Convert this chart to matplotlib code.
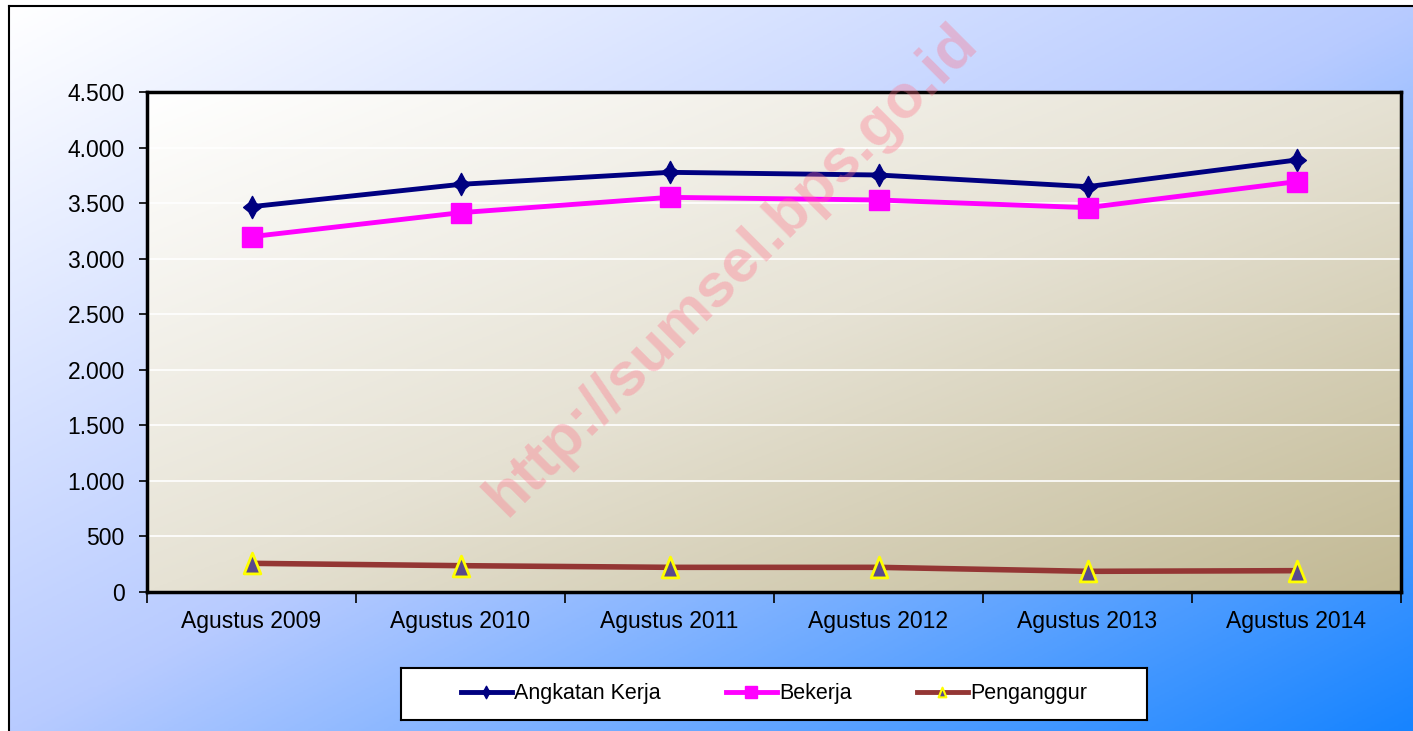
import numpy as np
import matplotlib
matplotlib.use("Agg")
import matplotlib.pyplot as plt
from matplotlib.colors import LinearSegmentedColormap
from matplotlib.lines import Line2D
from matplotlib.path import Path

categories = ["Agustus 2009", "Agustus 2010", "Agustus 2011", "Agustus 2012", "Agustus 2013", "Agustus 2014"]
angkatan_kerja = [3468, 3669, 3777, 3753, 3648, 3888]
bekerja = [3198, 3414, 3552, 3528, 3459, 3693]
penganggur = [258, 237, 222, 222, 186, 192]
yticks = [0, 500, 1000, 1500, 2000, 2500, 3000, 3500, 4000, 4500]
ytick_labels = ["0", "500", "1.000", "1.500", "2.000", "2.500", "3.000", "3.500", "4.000", "4.500"]

plt.rcParams['font.family'] = ['Liberation Sans', 'DejaVu Sans']

W, H = 1413, 731
fig = plt.figure(figsize=(W / 100, H / 100), dpi=100)
fig.patch.set_facecolor("white")

def diag_gradient(c0, c1, c2, n=300):
    cmap = LinearSegmentedColormap.from_list("g", [c0, c1, c2])
    x = np.linspace(0, 1, n)
    y = np.linspace(0, 1, n)
    X, Y = np.meshgrid(x, y)
    return cmap, (X + Y) / 2

# background panel
bg = fig.add_axes([9 / W, 0, 1 - 9 / W, 1 - 6 / H])
cmap, G = diag_gradient("#ffffff", "#b8cbff", "#1784ff")
bg.imshow(G, cmap=cmap, aspect="auto", extent=[0, 1, 0, 1], origin="upper")
bg.set_xticks([]); bg.set_yticks([])
for s in ["bottom", "right"]:
    bg.spines[s].set_visible(False)
for s in ["top", "left"]:
    bg.spines[s].set_linewidth(1.5)
bg.set_zorder(0)

# plot area
left, right, top, bottom = 147, 1401, 92, 592
ax = fig.add_axes([left / W, 1 - bottom / H, (right - left) / W, (bottom - top) / H])
ax.set_zorder(1)
cmap2, G2 = diag_gradient("#ffffff", "#e6e2d4", "#c2b994")
ax.imshow(G2, cmap=cmap2, aspect="auto", extent=[-0.5, 5.5, 0, 4500], origin="upper", zorder=0)

x = np.arange(len(categories))
for yv in yticks[1:]:
    ax.axhline(yv, color="white", lw=1.2, zorder=1)

tri_marker = Path([(-0.8, -1.0), (0.8, -1.0), (0.0, 1.0), (-0.8, -1.0)],
                  [Path.MOVETO, Path.LINETO, Path.LINETO, Path.CLOSEPOLY])
dia_pts = [(0, 1), (0.33, 0.38), (0.8, 0), (0.33, -0.38), (0, -1), (-0.33, -0.38), (-0.8, 0), (-0.33, 0.38), (0, 1)]
dia_marker = Path(dia_pts, [Path.MOVETO] + [Path.LINETO] * 7 + [Path.CLOSEPOLY])

ax.plot(x, angkatan_kerja, color="#000080", lw=3.5, marker=dia_marker, ms=16, mfc="#000080", mec="#000080", label="Angkatan Kerja", zorder=3)
ax.plot(x, bekerja, color="#ff00ff", lw=3.5, marker="s", ms=14, mfc="#ff00ff", mec="#ff00ff", label="Bekerja", zorder=3)
ax.plot(x, penganggur, color="#943634", lw=4, marker=tri_marker, ms=15, mfc="#5a4a8c", mec="#ffff00", mew=2, label="Penganggur", zorder=3)

ax.set_xlim(-0.5, 5.5)
ax.set_ylim(0, 4500)
ax.set_yticks(yticks)
ax.set_yticklabels(ytick_labels, fontsize=16.5)
ax.set_xticks(x)
ax.set_xticklabels(categories, fontsize=16.5)
ax.set_xticks(np.arange(-0.5, 6.0, 1.0), minor=True)
ax.tick_params(axis="x", which="major", length=0, pad=13)
ax.tick_params(axis="x", which="minor", length=8, width=1.2, direction="out")
ax.tick_params(axis="y", length=6, width=1.2, direction="out", pad=10)
for s in ax.spines.values():
    s.set_linewidth(2.5)
    s.set_color("black")

# watermark
fig.text(732 / W, 1 - 270 / H, "http://sumsel.bps.go.id", rotation=45, fontsize=44, fontweight="bold",
         color="#ff7088", alpha=0.35, ha="center", va="center", zorder=5)

# legend
leg_ax = fig.add_axes([401 / W, 1 - 720 / H, (1147 - 401) / W, (720 - 668) / H])
leg_ax.set_zorder(2)
leg_ax.set_xticks([]); leg_ax.set_yticks([])
leg_ax.set_facecolor("white")
for s in leg_ax.spines.values():
    s.set_linewidth(1.5)
labels = ["Angkatan Kerja", "Bekerja", "Penganggur"]
h2 = [Line2D([], [], color="#000080", lw=3.5, marker=dia_marker, ms=9),
      Line2D([], [], color="#ff00ff", lw=3.5, marker="s", ms=8),
      Line2D([], [], color="#943634", lw=3.5, marker=tri_marker, ms=7, mfc="#5a4a8c", mec="#ffff00", mew=1.5)]
leg_ax.legend(h2, labels, loc="center", ncol=3, frameon=False, fontsize=15.5, handlelength=2.4,
              handletextpad=0.1, columnspacing=3.0)

fig.savefig("out.png", dpi=100)
